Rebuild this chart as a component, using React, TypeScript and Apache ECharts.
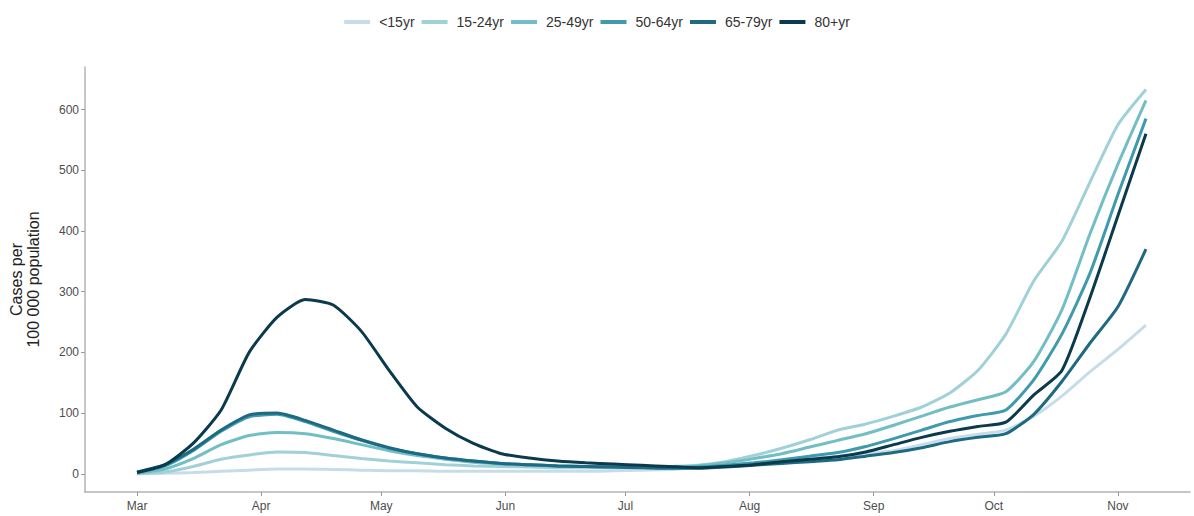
import React, { useEffect, useRef } from "react";
import * as echarts from "echarts";

const dates = [
  "2020-03-01", "2020-03-08", "2020-03-15", "2020-03-22", "2020-03-29",
  "2020-04-05", "2020-04-12", "2020-04-19", "2020-04-26",
  "2020-05-03", "2020-05-10", "2020-05-17", "2020-05-24", "2020-05-31",
  "2020-06-07", "2020-06-14", "2020-06-21", "2020-06-28",
  "2020-07-05", "2020-07-12", "2020-07-19", "2020-07-26",
  "2020-08-02", "2020-08-09", "2020-08-16", "2020-08-23", "2020-08-30",
  "2020-09-06", "2020-09-13", "2020-09-20", "2020-09-27",
  "2020-10-04", "2020-10-11", "2020-10-18", "2020-10-25",
  "2020-11-01", "2020-11-08",
];

const monthStarts = ["2020-03-01", "2020-04-01", "2020-05-01", "2020-06-01", "2020-07-01", "2020-08-01", "2020-09-01", "2020-10-01", "2020-11-01"];
const monthLabels = ["Mar", "Apr", "May", "Jun", "Jul", "Aug", "Sep", "Oct", "Nov"];
const yTicks = [0, 100, 200, 300, 400, 500, 600];

const groups = ["<15yr", "15-24yr", "25-49yr", "50-64yr", "65-79yr", "80+yr"];
const colors = ["#c6dde9", "#a0d1d9", "#72bec4", "#3f9aae", "#1d6a82", "#0a3a4c"];

const under15 = [0, 1, 2, 4, 6, 8, 8, 7, 6, 5, 5, 4, 4, 4, 4, 4, 4, 5, 6, 7, 10, 13, 17, 21, 25, 29, 33, 38, 48, 58, 65, 72, 95, 128, 168, 205, 245];
const y15to24 = [0, 3, 12, 24, 31, 36, 35, 30, 25, 21, 18, 15, 13, 12, 11, 10, 10, 10, 11, 12, 14, 20, 30, 42, 56, 72, 82, 95, 110, 133, 170, 230, 318, 383, 480, 575, 633];
const y25to49 = [1, 8, 25, 48, 63, 68, 66, 58, 48, 38, 30, 24, 19, 16, 14, 13, 12, 12, 12, 12, 13, 18, 25, 33, 44, 55, 66, 80, 95, 110, 122, 135, 185, 270, 395, 510, 615];
const y50to64 = [2, 13, 38, 70, 94, 98, 86, 70, 55, 42, 33, 26, 21, 17, 15, 13, 12, 11, 11, 10, 11, 14, 18, 23, 29, 35, 45, 58, 72, 86, 96, 105, 155, 230, 330, 460, 585];
const y65to79 = [3, 15, 40, 72, 97, 100, 88, 72, 56, 43, 33, 26, 21, 17, 15, 13, 12, 11, 10, 9, 9, 11, 14, 17, 20, 23, 29, 35, 43, 53, 60, 66, 98, 152, 215, 275, 370];
const y80plus = [2, 15, 50, 105, 200, 258, 287, 278, 235, 170, 110, 75, 50, 33, 26, 21, 18, 16, 14, 12, 10, 12, 15, 20, 24, 28, 36, 48, 60, 70, 78, 85, 130, 170, 290, 425, 560];

const seriesValues = [under15, y15to24, y25to49, y50to64, y65to79, y80plus];

const DAY = 86400000;
const origin = Date.UTC(2020, 2, 1);
const toDay = (s: string) => {
  const [y, m, d] = s.split("-").map(Number);
  return Math.round((Date.UTC(y, m - 1, d) - origin) / DAY);
};
const dayValues = dates.map(toDay);
const monthDays = monthStarts.map(toDay);

export default function App() {
  const ref = useRef<HTMLDivElement>(null);
  useEffect(() => {
    if (!ref.current) return;
    const chart = echarts.init(ref.current, undefined, { renderer: "svg" });
    const font = "Liberation Sans, Arial, sans-serif";
    chart.setOption({
      animation: false,
      backgroundColor: "#ffffff",
      textStyle: { fontFamily: font },
      legend: {
        top: 10,
        left: "center",
        icon: "rect",
        itemWidth: 26,
        itemHeight: 4,
        itemGap: 7,
        data: groups,
        textStyle: { fontSize: 14, color: "#333", fontFamily: font, padding: [0, 0, 0, 4] },
      },
      grid: { left: 84, right: 4, top: 67, bottom: 24, containLabel: false },
      xAxis: {
        type: "value",
        min: -13,
        max: 263,
        splitLine: { show: false },
        axisLine: { show: true, onZero: false, lineStyle: { color: "#b3b3b3", width: 1.5 } },
        axisTick: { show: true, length: 4, customValues: monthDays, lineStyle: { color: "#999", width: 1 } },
        axisLabel: {
          customValues: monthDays,
          margin: 8,
          fontSize: 12,
          color: "#4d4d4d",
          fontFamily: font,
          formatter: (v: number) => {
            const i = monthDays.indexOf(Math.round(v));
            return i >= 0 ? monthLabels[i] : "";
          },
        },
      },
      yAxis: {
        type: "value",
        min: -30,
        max: 670,
        name: "Cases per\n100 000 population",
        nameLocation: "middle",
        nameRotate: 90,
        nameGap: 43,
        nameTextStyle: { fontSize: 16, color: "#222", fontFamily: font, lineHeight: 17 },
        splitLine: { show: false },
        axisLine: { show: true, onZero: false, lineStyle: { color: "#b3b3b3", width: 1.5 } },
        axisTick: { show: true, length: 4, customValues: yTicks, lineStyle: { color: "#999", width: 1 } },
        axisLabel: { customValues: yTicks, margin: 6, fontSize: 12, color: "#4d4d4d", fontFamily: font },
      },
      series: groups.map((g, k) => ({
        name: g,
        type: "line",
        showSymbol: false,
        symbol: "none",
        smooth: 0.2,
        color: colors[k],
        lineStyle: { width: 3, color: colors[k] },
        data: dayValues.map((d, i) => [d, seriesValues[k][i]]),
      })),
    });
    return () => chart.dispose();
  }, []);
  return <div ref={ref} style={{ position: "absolute", left: 0, top: 0, width: 1194, height: 516 }} />;
}
